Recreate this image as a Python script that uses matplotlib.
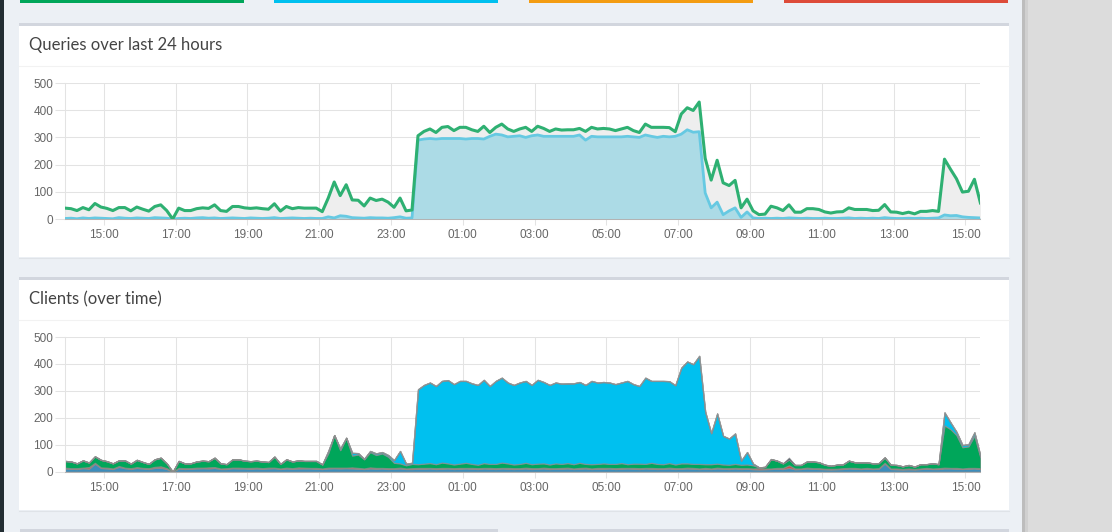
import pandas as pd
import matplotlib
matplotlib.use('Agg')
import matplotlib.pyplot as plt
import matplotlib.dates as mdates
from matplotlib.patches import Rectangle

W, H = 1112, 532

# 10 minute slots, 13:55 -> 15:25 next day
times = pd.date_range('2019-03-11 13:55', periods=154, freq='10min')

total_queries = [
    40, 38, 31, 42, 34, 57, 44, 39, 31, 42,
    42, 30, 44, 36, 29, 46, 52, 31, 0, 40,
    31, 31, 38, 41, 39, 52, 31, 28, 46, 46,
    41, 39, 41, 38, 36, 56, 29, 46, 38, 42,
    40, 40, 40, 27, 77, 136, 86, 126, 70, 69,
    48, 77, 68, 73, 62, 43, 77, 30, 33, 306,
    322, 331, 318, 337, 340, 325, 337, 337, 328, 322,
    341, 318, 337, 349, 331, 322, 331, 337, 322, 341,
    333, 322, 331, 327, 328, 328, 333, 322, 337, 331,
    333, 331, 325, 331, 337, 325, 318, 349, 337, 337,
    337, 336, 321, 386, 409, 399, 430, 223, 143, 216,
    133, 123, 142, 41, 73, 30, 16, 18, 47, 41,
    31, 52, 25, 25, 38, 38, 35, 26, 22, 26,
    27, 41, 35, 35, 35, 31, 32, 53, 26, 25,
    20, 25, 19, 28, 28, 31, 28, 220, 183, 148,
    99, 102, 146, 59]

blocked_queries = [
    2, 3, 1, 4, 2, 4, 3, 2, 1, 5,
    3, 2, 4, 3, 2, 5, 4, 3, 0, 2,
    3, 2, 4, 5, 3, 4, 2, 3, 4, 3,
    2, 4, 3, 2, 3, 5, 2, 3, 4, 3,
    2, 3, 2, 2, 8, 4, 12, 10, 5, 4,
    3, 5, 4, 4, 3, 5, 8, 3, 4, 290,
    294, 296, 294, 296, 296, 296, 296, 294, 296, 296,
    294, 304, 312, 309, 302, 304, 306, 300, 306, 309,
    304, 304, 304, 304, 304, 304, 309, 290, 304, 302,
    302, 302, 302, 302, 304, 302, 300, 309, 304, 300,
    304, 302, 304, 312, 328, 319, 321, 96, 41, 62,
    16, 30, 41, 6, 26, 4, 2, 3, 2, 3,
    2, 4, 3, 2, 3, 2, 2, 3, 2, 2,
    3, 4, 2, 3, 2, 3, 2, 5, 3, 2,
    2, 3, 2, 3, 2, 3, 4, 15, 12, 13,
    8, 6, 5, 4]

client_blue = [
    12, 11, 10, 13, 11, 30, 14, 12, 10, 18,
    13, 10, 14, 12, 10, 14, 15, 10, 0, 12,
    10, 11, 12, 13, 12, 14, 10, 10, 13, 12,
    12, 11, 12, 11, 12, 13, 10, 12, 11, 12,
    12, 12, 11, 10, 12, 13, 12, 13, 12, 11,
    10, 12, 11, 12, 10, 11, 12, 10, 10, 11,
    11, 12, 10, 11, 12, 10, 11, 12, 11, 10,
    12, 11, 10, 12, 11, 10, 11, 12, 10, 11,
    12, 10, 11, 11, 12, 10, 11, 12, 10, 11,
    11, 12, 10, 11, 12, 11, 10, 12, 11, 10,
    11, 12, 10, 11, 12, 11, 10, 11, 10, 12,
    11, 10, 12, 10, 11, 9, 8, 9, 10, 11,
    10, 14, 9, 10, 12, 11, 10, 9, 8, 9,
    10, 12, 11, 10, 11, 10, 11, 30, 10, 9,
    8, 9, 8, 10, 11, 10, 10, 12, 12, 11,
    10, 11, 12, 10]

client_red = [
    3, 2, 3, 2, 6, 3, 2, 3, 2, 3,
    2, 3, 3, 2, 3, 4, 5, 3, 0, 2,
    3, 2, 3, 2, 4, 3, 2, 3, 2, 3,
    2, 3, 3, 2, 3, 2, 2, 3, 2, 4,
    3, 2, 3, 2, 3, 2, 3, 2, 4, 3,
    2, 4, 3, 2, 3, 2, 3, 2, 3, 3,
    3, 2, 3, 3, 2, 3, 3, 2, 3, 3,
    2, 3, 3, 2, 3, 3, 2, 3, 3, 2,
    3, 3, 2, 3, 3, 2, 3, 3, 2, 3,
    3, 2, 3, 3, 2, 3, 3, 2, 3, 3,
    2, 3, 3, 2, 3, 3, 2, 3, 2, 3,
    2, 3, 2, 3, 2, 3, 5, 3, 2, 3,
    4, 10, 3, 2, 3, 2, 3, 2, 3, 2,
    3, 2, 3, 2, 3, 2, 2, 3, 2, 3,
    2, 3, 2, 2, 3, 2, 3, 3, 2, 3,
    2, 3, 2, 3]

client_green = [
    25, 25, 18, 27, 17, 24, 28, 24, 19, 21,
    27, 17, 27, 22, 16, 28, 32, 18, 0, 26,
    18, 18, 23, 26, 23, 35, 19, 15, 31, 31,
    27, 25, 26, 25, 21, 41, 17, 31, 25, 26,
    25, 26, 26, 15, 54, 121, 65, 111, 44, 50,
    34, 57, 48, 54, 43, 20, 16, 12, 16, 14,
    16, 18, 15, 20, 17, 14, 16, 19, 15, 13,
    18, 15, 16, 20, 17, 14, 16, 18, 15, 17,
    16, 14, 18, 15, 17, 16, 19, 14, 16, 15,
    17, 15, 16, 18, 14, 16, 17, 15, 19, 16,
    15, 17, 14, 18, 16, 15, 17, 14, 16, 15,
    14, 13, 15, 13, 14, 12, 3, 6, 35, 27,
    17, 22, 13, 13, 23, 25, 22, 15, 11, 15,
    14, 27, 21, 23, 21, 19, 19, 20, 14, 13,
    10, 13, 9, 16, 14, 19, 15, 157, 144, 122,
    79, 80, 120, 40]

client_cyan = [
    0, 0, 0, 0, 0, 0, 0, 0, 0, 0,
    0, 0, 0, 0, 0, 0, 0, 0, 0, 0,
    0, 0, 0, 0, 0, 0, 0, 0, 0, 0,
    0, 0, 0, 0, 0, 0, 0, 0, 0, 0,
    0, 0, 0, 0, 8, 0, 6, 0, 10, 5,
    2, 4, 6, 5, 6, 10, 46, 6, 4, 278,
    292, 299, 290, 303, 309, 298, 307, 304, 299, 296,
    309, 289, 308, 315, 300, 295, 302, 304, 294, 311,
    302, 295, 300, 298, 296, 300, 300, 293, 309, 302,
    302, 302, 296, 299, 309, 295, 288, 320, 304, 308,
    309, 304, 294, 355, 378, 370, 401, 195, 115, 186,
    106, 97, 113, 15, 46, 6, 0, 0, 0, 0,
    0, 0, 0, 0, 0, 0, 0, 0, 0, 0,
    0, 0, 0, 0, 0, 0, 0, 0, 0, 0,
    0, 0, 0, 0, 0, 0, 0, 48, 25, 12,
    8, 8, 12, 6]

client_navy = [
    0, 0, 0, 0, 0, 0, 0, 0, 0, 0,
    0, 0, 0, 0, 0, 0, 0, 0, 0, 0,
    0, 0, 0, 0, 0, 0, 0, 0, 0, 0,
    0, 0, 0, 0, 0, 0, 0, 0, 0, 0,
    0, 0, 0, 0, 0, 0, 0, 0, 0, 0,
    0, 0, 0, 0, 0, 0, 0, 0, 0, 0,
    0, 0, 0, 0, 0, 0, 0, 0, 0, 0,
    0, 0, 0, 0, 0, 0, 0, 0, 0, 0,
    0, 0, 0, 0, 0, 0, 0, 0, 0, 0,
    0, 0, 0, 0, 0, 0, 0, 0, 0, 0,
    0, 0, 0, 0, 0, 0, 0, 0, 0, 0,
    0, 0, 0, 0, 0, 0, 0, 0, 0, 0,
    0, 6, 0, 0, 0, 0, 0, 0, 0, 0,
    0, 0, 0, 0, 0, 0, 0, 0, 0, 0,
    0, 0, 0, 0, 0, 0, 0, 0, 0, 0,
    0, 0, 0, 0]

y_ticks = [0, 100, 200, 300, 400, 500]
panel_titles = ['Queries over last 24 hours', 'Clients (over time)']
client_colors = ['#3c8dbc', '#dd4b39', '#00a65a', '#00c0ef', '#001f3f']

fig = plt.figure(figsize=(W / 100, H / 100), dpi=100)
fig.patch.set_facecolor('#ecf0f5')

# page background drawn in pixel coordinates
bg = fig.add_axes([0, 0, 1, 1], zorder=-5)
bg.set_xlim(0, W)
bg.set_ylim(H, 0)
bg.axis('off')

bg.add_patch(Rectangle((0, 0), 3.5, H, color='#222d32', lw=0))
bg.add_patch(Rectangle((1024, 0), W - 1024, H, color='#dcdcdc', lw=0))
bg.add_patch(Rectangle((1022, 0), 2.5, H, color='#bdbdbd', lw=0))
bg.add_patch(Rectangle((1024.5, 0), 3, H, color='#d0d0d0', lw=0))

for x0, c in zip([20, 274, 529, 784], ['#00a65a', '#00c0ef', '#f39c12', '#dd4b39']):
    bg.add_patch(Rectangle((x0, 0), 224, 2.8, color=c, lw=0))

# the two boxes
for top, bottom, title in [(23.3, 257, panel_titles[0]), (277.3, 510, panel_titles[1])]:
    bg.add_patch(Rectangle((19, top + 3), 990, bottom - top - 3, color='white', lw=0))
    bg.add_patch(Rectangle((19, top), 990, 3, color='#d2d6de', lw=0))
    bg.plot([19, 1009], [top + 42.5, top + 42.5], color='#f2f2f2', lw=0.8)
    bg.text(29, top + 22, title, fontsize=12, family='Lato', color='#444444',
            va='center', ha='left')
    bg.plot([19, 1009], [bottom + 0.5, bottom + 0.5], color='#dfe3e8', lw=0.8)

bg.add_patch(Rectangle((19.5, 529), 478, 3, color='#d2d6de', lw=0))
bg.add_patch(Rectangle((529.5, 529), 479, 3, color='#d2d6de', lw=0))


def style_axes(ax):
    ax.set_facecolor('none')
    ax.set_xlim(times[0], times[-1])
    ax.set_ylim(0, 500)
    ax.set_yticks(y_ticks)
    ax.xaxis.set_major_locator(mdates.HourLocator(byhour=range(1, 24, 2)))
    ax.xaxis.set_major_formatter(mdates.DateFormatter('%H:%M'))
    ax.grid(True, color='#e3e3e3', lw=0.75)
    ax.set_axisbelow(True)
    for s in ['top', 'right']:
        ax.spines[s].set_visible(False)
    ax.spines['left'].set_color('#e3e3e3')
    ax.spines['left'].set_linewidth(0.75)
    ax.spines['bottom'].set_color('#b3b3b3')
    ax.spines['bottom'].set_linewidth(0.75)
    ax.tick_params(axis='y', length=7.5, width=0.75, color='#e3e3e3', pad=1,
                   labelsize=8.5, labelcolor='#666666')
    ax.tick_params(axis='x', length=4.5, width=0.75, color='#e3e3e3', pad=3,
                   labelsize=8.5, labelcolor='#666666')
    for lab in ax.get_xticklabels() + ax.get_yticklabels():
        lab.set_family('Liberation Sans')


ax1 = fig.add_axes([65 / W, 1 - 219 / H, 915.4 / W, 136 / H])
style_axes(ax1)
ax1.fill_between(times, 0, total_queries, color='#eeeeee', lw=0, zorder=1)
ax1.fill_between(times, 0, blocked_queries, color='#acdbe6', lw=0, zorder=2)
ax1.plot(times, blocked_queries, color='#66c9e2', lw=2, zorder=3)
ax1.plot(times, total_queries, color='#2eb072', lw=2.2, zorder=4)

ax2 = fig.add_axes([65 / W, 1 - 471.7 / H, 915.4 / W, 134.7 / H])
style_axes(ax2)
ax2.stackplot(times, client_blue, client_red, client_green, client_cyan, client_navy,
              colors=client_colors, edgecolor=(0.55, 0.55, 0.55, 0.7), linewidth=0.9,
              zorder=2)

fig.savefig('out.png', dpi=100, facecolor=fig.get_facecolor())
